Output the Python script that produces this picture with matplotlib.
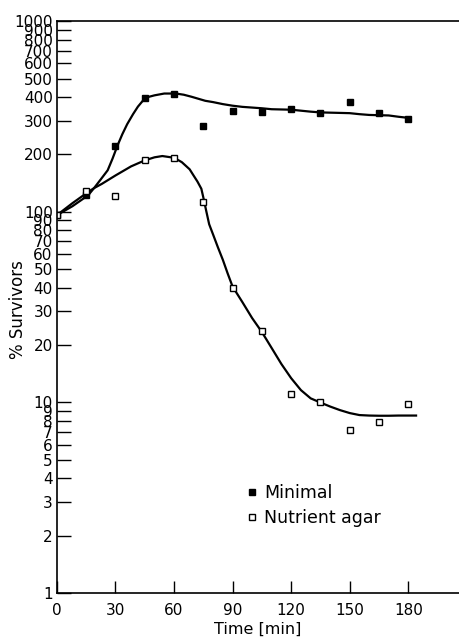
import numpy as np
import matplotlib
matplotlib.use("Agg")
from matplotlib import pyplot as plt
from matplotlib.ticker import FixedLocator, NullLocator

# measured points (time in min, % survivors)
t_pts = [0, 15, 30, 45, 60, 75, 90, 105, 120, 135, 150, 165, 180]
minimal = [96, 122, 221, 396, 417, 281, 337, 334, 344, 330, 377, 330, 306]
nutrient = [96, 128, 121, 186, 191, 113, 40, 23.7, 11.1, 10.0, 7.2, 7.9, 9.8]

# hand drawn curves
t_min_curve = [0, 8, 16, 19, 22.5, 26, 28.5, 31, 33.5, 36, 39, 41.5, 44, 46, 50,
               55, 61, 65, 69, 76, 80, 85, 90, 95, 100, 105, 110, 115, 120, 125,
               130, 135, 140, 145, 150, 155, 160, 165, 170, 175, 181]
v_min_curve = [96, 107, 122, 133, 148, 165, 190, 222, 255, 288, 325, 356, 382,
               398, 408, 417, 417, 411, 401, 382, 376, 367, 360, 355, 352, 349,
               345, 344, 343, 339, 335, 332, 331, 330, 329, 325, 322, 321, 320,
               315, 310]

t_nut_curve = [0, 8, 16, 19, 23, 30, 38, 45, 50, 54, 60, 64, 68, 70, 72, 74, 75,
               76.5, 78, 80, 82.5, 85, 87.5, 90, 95, 100, 105, 110, 115, 120, 125,
               130, 135, 140, 145, 150, 155, 160, 165, 170, 175, 180, 184]
v_nut_curve = [96, 111, 127, 133, 140, 155, 173, 186, 193, 196, 192, 182, 167,
               155, 144, 132, 119, 101, 86, 76, 65, 56, 47.4, 40.5, 33.6, 27.7,
               23.4, 19.3, 15.9, 13.4, 11.6, 10.5, 9.98, 9.51, 9.11, 8.79, 8.58,
               8.53, 8.51, 8.51, 8.53, 8.53, 8.53]

ytick_vals = [1, 2, 3, 4, 5, 6, 7, 8, 9, 10, 20, 30, 40, 50, 60, 70, 80, 90,
              100, 200, 300, 400, 500, 600, 700, 800, 900, 1000]
xtick_vals = [0, 30, 60, 90, 120, 150, 180]

fig = plt.figure(figsize=(4.59, 6.40), dpi=100)
ax = fig.add_axes([0.124, 0.0734, 0.876, 0.8936])

ax.plot(t_min_curve, v_min_curve, color="black", lw=1.6)
ax.plot(t_nut_curve, v_nut_curve, color="black", lw=1.6)
ax.plot(t_pts, minimal, ls="none", marker="s", ms=5, mfc="black", mec="black",
        label="Minimal")
ax.plot(t_pts, nutrient, ls="none", marker="s", ms=5, mfc="white", mec="black",
        mew=1.0, label="Nutrient agar")

ax.set_yscale("log")
ax.set_ylim(1, 1000)
ax.set_xlim(0, 206)
ax.yaxis.set_major_locator(FixedLocator(ytick_vals))
ax.yaxis.set_minor_locator(NullLocator())
ax.set_yticklabels([str(v) for v in ytick_vals])
ax.set_xticks(xtick_vals)
ax.set_xticklabels([str(v) for v in xtick_vals])

ax.tick_params(axis="y", direction="in", length=10, width=1.0, labelsize=11, pad=3)
ax.tick_params(axis="x", direction="in", length=8.5, width=1.0, labelsize=11, pad=7)
ax.spines["right"].set_visible(False)
for s in ["left", "bottom", "top"]:
    ax.spines[s].set_linewidth(1.2)

ax.set_xlabel("Time [min]", fontsize=11.5, labelpad=3)
ax.set_ylabel("% Survivors", fontsize=12)
ax.yaxis.set_label_coords(-0.075, 0.495)

ax.legend(loc="upper left", bbox_to_anchor=(0.473, 0.19), frameon=False,
          fontsize=12.5, markerscale=0.75, handlelength=0.6, handletextpad=0.4,
          labelspacing=0.4, borderpad=0, borderaxespad=0)

fig.savefig("out.png", dpi=100)
